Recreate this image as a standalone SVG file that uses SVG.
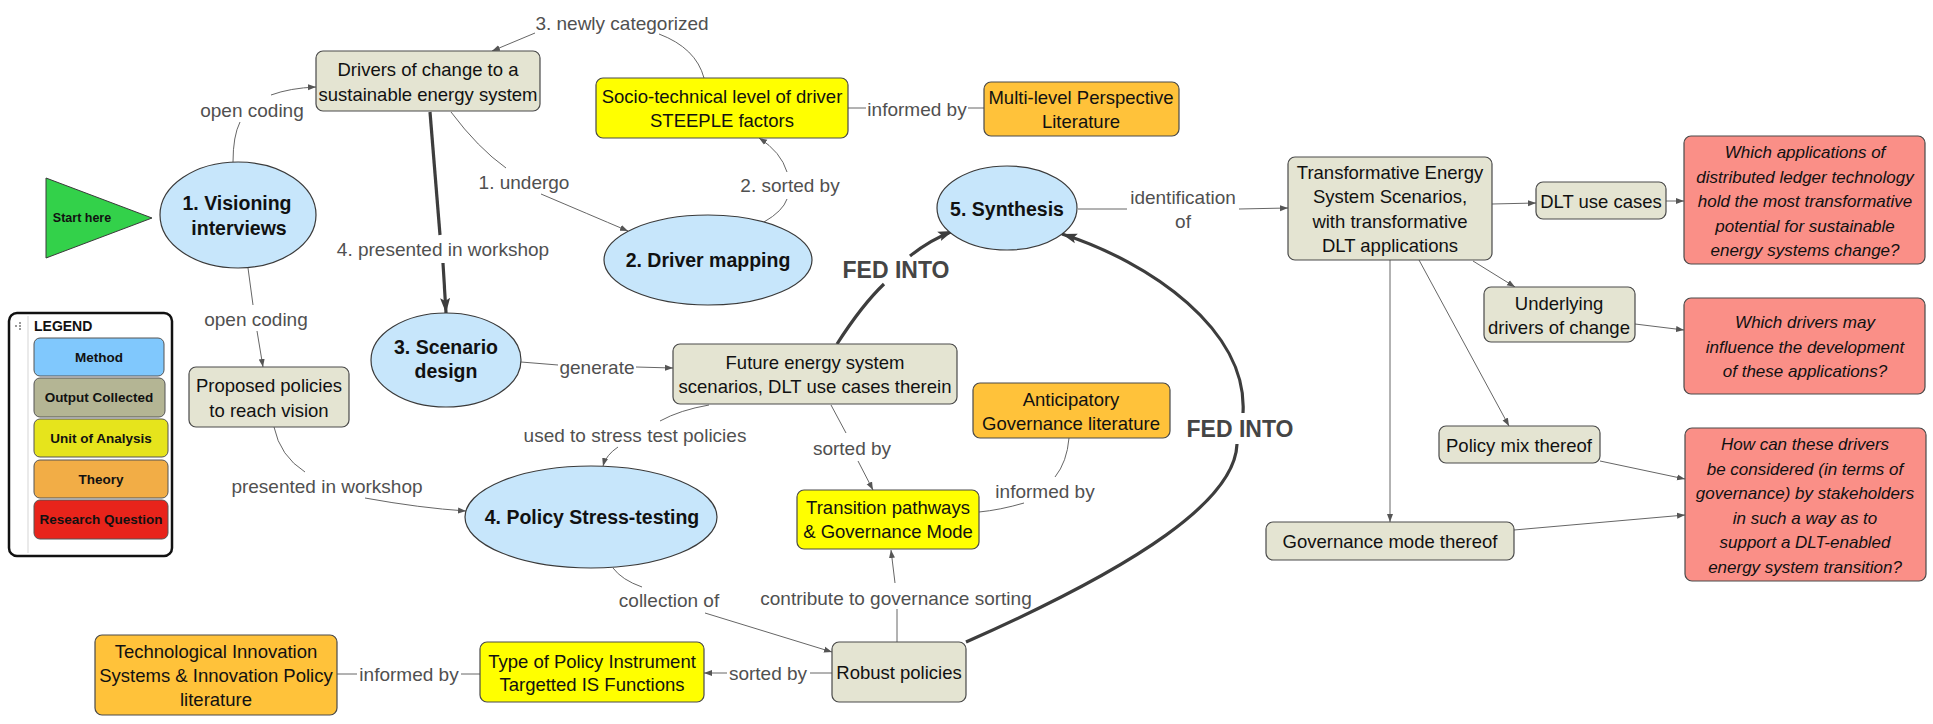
<svg xmlns="http://www.w3.org/2000/svg" width="1933" height="724" viewBox="0 0 1933 724">
  <defs>
    <marker id="arr" markerUnits="userSpaceOnUse" markerWidth="9" markerHeight="7" refX="8" refY="3.5" orient="auto">
      <path d="M0,0.5 L8,3.5 L0,6.5 z" fill="#555"/>
    </marker>
    <marker id="arrBig" markerUnits="userSpaceOnUse" markerWidth="16" markerHeight="12" refX="15" refY="6" orient="auto">
      <path d="M0,1 L15,6 L0,11 L3,6 z" fill="#3d3d3d"/>
    </marker>
    <style>
      .method { fill: #c7e6fb; stroke: #3a3a3a; stroke-width: 1.2; }
      .output { fill: #e4e4d2; stroke: #4a4a4a; stroke-width: 1.2; }
      .unit { fill: #ffff00; stroke: #4a4a4a; stroke-width: 1.2; }
      .theory { fill: #ffc23a; stroke: #4a4a4a; stroke-width: 1.2; }
      .rq { fill: #fa8f87; stroke: #4a4a4a; stroke-width: 1.2; }
      .start { fill: #33d14a; stroke: #3a3a3a; stroke-width: 1; }
      .t { font-family: "Liberation Sans", Arial, sans-serif; font-size: 18.5px; fill: #111; text-anchor: middle; }
      .tb { font-family: "Liberation Sans", Arial, sans-serif; font-size: 19.5px; font-weight: bold; fill: #111; text-anchor: middle; }
      .ti { font-family: "Liberation Sans", Arial, sans-serif; font-size: 17px; font-style: italic; fill: #111; text-anchor: middle; }
      .lbl { font-family: "Liberation Sans", Arial, sans-serif; font-size: 19px; fill: #505050; text-anchor: middle; }
      .fed { font-family: "Liberation Sans", Arial, sans-serif; font-size: 23px; font-weight: bold; fill: #454545; text-anchor: middle; }
      .lg { font-family: "Liberation Sans", Arial, sans-serif; font-size: 13.5px; font-weight: bold; fill: #111; text-anchor: middle; }
      .c { fill: none; stroke: #666; stroke-width: 1; }
      .ca { fill: none; stroke: #666; stroke-width: 1; marker-end: url(#arr); }
      .thick { fill: none; stroke: #3d3d3d; stroke-width: 3.2; }
      .thicka { fill: none; stroke: #3d3d3d; stroke-width: 3.2; marker-end: url(#arrBig); }
    </style>
  </defs>

  <rect width="1933" height="724" fill="#ffffff"/>

  <!-- connectors -->
  <g id="connectors">
    <!-- Socio-technical -> 3. newly categorized -> Drivers -->
    <path class="c" d="M704,78 Q696,48 659,34"/>
    <path class="ca" d="M535,33 L492,51"/>
    <!-- Visioning -> open coding -> Drivers -->
    <path class="c" d="M233,162 Q233,136 240,122"/>
    <path class="ca" d="M271,95 Q290,88 316,87"/>
    <!-- Drivers -> 1. undergo -> Driver mapping -->
    <path class="c" d="M451,112 Q478,148 506,168"/>
    <path class="ca" d="M541,194 Q588,214 628,231"/>
    <!-- Drivers -> 4. presented in workshop -> Scenario design -->
    <path class="thick" d="M430,112 L440,235"/>
    <path class="thicka" d="M443,263 L446,313"/>
    <!-- Driver mapping -> 2. sorted by -> Socio-technical -->
    <path class="c" d="M764,222 Q783,211 787,199"/>
    <path class="ca" d="M787,172 Q781,152 759,138"/>
    <!-- Socio-technical -> informed by -> Multi-level -->
    <path class="c" d="M848,108 L866,108"/>
    <path class="c" d="M968,108 L984,108"/>
    <!-- Synthesis -> identification of -> Transformative -->
    <path class="c" d="M1078,209 L1127,209"/>
    <path class="ca" d="M1239,209 L1288,208"/>
    <!-- Future -> FED INTO -> Synthesis -->
    <path class="thick" d="M837,344 Q862,305 884,284"/>
    <path class="thicka" d="M910,256 Q930,240 953,231"/>
    <!-- Robust -> FED INTO -> Synthesis -->
    <path class="thick" d="M966,642 C1140,565 1235,500 1237,444"/>
    <path class="thicka" d="M1243,413 C1248,330 1150,262 1062,234"/>
    <!-- Scenario design -> generate -> Future -->
    <path class="c" d="M521,362 L558,365"/>
    <path class="ca" d="M636,367 L673,368"/>
    <!-- Future -> used to stress test policies -> Policy stress-testing -->
    <path class="c" d="M709,405 Q680,410 660,421"/>
    <path class="ca" d="M618,447 Q606,455 603,466"/>
    <!-- Future -> sorted by -> Transition pathways -->
    <path class="c" d="M831,405 L846,433"/>
    <path class="ca" d="M858,461 L873,490"/>
    <!-- Anticipatory -> informed by -> Transition pathways -->
    <path class="c" d="M1069,438 Q1067,462 1055,477"/>
    <path class="c" d="M1024,503 Q1000,510 979,512"/>
    <!-- Visioning -> open coding -> Proposed policies -->
    <path class="c" d="M248,268 L253,305"/>
    <path class="ca" d="M257,331 L263,367"/>
    <!-- Proposed policies -> presented in workshop -> Policy stress-testing -->
    <path class="c" d="M274,427 Q280,456 305,472"/>
    <path class="ca" d="M365,498 Q420,508 466,511"/>
    <!-- Policy stress-testing -> collection of -> Robust -->
    <path class="c" d="M613,568 Q622,580 642,587"/>
    <path class="ca" d="M705,613 L832,652"/>
    <!-- Robust -> contribute to governance sorting -> Transition -->
    <path class="c" d="M897,642 L897,609"/>
    <path class="ca" d="M895,583 L891,550"/>
    <!-- Robust -> sorted by -> Type of Policy Instrument -->
    <path class="c" d="M832,673 L810,673"/>
    <path class="ca" d="M727,673 L704,673"/>
    <!-- TIS literature -> informed by -> Type of Policy Instrument -->
    <path class="c" d="M337,674 L357,674"/>
    <path class="c" d="M461,674 L480,674"/>
    <!-- Transformative scenarios fan-out -->
    <path class="ca" d="M1492,204 L1536,203"/>
    <path class="ca" d="M1666,201 L1684,201"/>
    <path class="ca" d="M1473,261 L1515,287"/>
    <path class="ca" d="M1635,324 L1684,330"/>
    <path class="ca" d="M1419,260 L1509,426"/>
    <path class="ca" d="M1390,260 L1390,522"/>
    <path class="ca" d="M1600,461 L1685,479"/>
    <path class="ca" d="M1514,530 L1685,515"/>

    <!-- connector labels -->
    <text class="lbl" x="622" y="30">3. newly categorized</text>
    <text class="lbl" x="252" y="117">open coding</text>
    <text class="lbl" x="524" y="189">1. undergo</text>
    <text class="lbl" x="443" y="256">4. presented in workshop</text>
    <text class="lbl" x="790" y="192">2. sorted by</text>
    <text class="lbl" x="917" y="116">informed by</text>
    <text class="lbl" x="1183" y="204">identification</text>
    <text class="lbl" x="1183" y="228">of</text>
    <text class="fed" x="896" y="278">FED INTO</text>
    <text class="fed" x="1240" y="437">FED INTO</text>
    <text class="lbl" x="597" y="374">generate</text>
    <text class="lbl" x="635" y="442">used to stress test policies</text>
    <text class="lbl" x="852" y="455">sorted by</text>
    <text class="lbl" x="1045" y="498">informed by</text>
    <text class="lbl" x="256" y="326">open coding</text>
    <text class="lbl" x="327" y="493">presented in workshop</text>
    <text class="lbl" x="669" y="607">collection of</text>
    <text class="lbl" x="896" y="605">contribute to governance sorting</text>
    <text class="lbl" x="768" y="680">sorted by</text>
    <text class="lbl" x="409" y="681">informed by</text>
  </g>

  <!-- legend -->
  <g id="legend">
    <rect x="9" y="313" width="163" height="243" rx="8" fill="#fff" stroke="#111" stroke-width="2.5"/>
    <line x1="28" y1="316" x2="28" y2="553" stroke="#d5d5d5" stroke-width="1"/>
    <rect x="15" y="325" width="2" height="2" fill="#999"/>
    <rect x="19" y="322" width="2" height="2" fill="#999"/>
    <rect x="19" y="325" width="2" height="2" fill="#999"/>
    <rect x="19" y="328" width="2" height="2" fill="#999"/>
    <text x="34" y="331" font-family="'Liberation Sans', Arial, sans-serif" font-size="14" font-weight="bold" fill="#111">LEGEND</text>
    <rect x="34" y="338" width="130" height="38" rx="6" fill="#80c8fd" stroke="#555" stroke-width="1"/>
    <text class="lg" x="99" y="362">Method</text>
    <rect x="34" y="378" width="131" height="39" rx="6" fill="#b4b594" stroke="#555" stroke-width="1"/>
    <text class="lg" x="99" y="402">Output Collected</text>
    <rect x="34" y="419" width="134" height="38" rx="6" fill="#e6e41c" stroke="#555" stroke-width="1"/>
    <text class="lg" x="101" y="443">Unit of Analysis</text>
    <rect x="34" y="460" width="134" height="38" rx="6" fill="#f2ad46" stroke="#555" stroke-width="1"/>
    <text class="lg" x="101" y="484">Theory</text>
    <rect x="34" y="500" width="134" height="39" rx="6" fill="#e8241b" stroke="#555" stroke-width="1"/>
    <text class="lg" x="101" y="524">Research Question</text>
  </g>

  <!-- nodes -->
  <g id="start">
    <polygon class="start" points="46,178 152,218 46,258"/>
    <text x="82" y="222" font-family="'Liberation Sans', Arial, sans-serif" font-size="12.5" font-weight="bold" fill="#111" text-anchor="middle">Start here</text>
  </g>

  <g id="visioning">
    <ellipse class="method" cx="238" cy="215" rx="78" ry="53"/>
    <text class="tb" x="237" y="210">1. Visioning</text>
    <text class="tb" x="239" y="235">interviews</text>
  </g>

  <g id="driver-mapping">
    <ellipse class="method" cx="708" cy="260" rx="104" ry="45"/>
    <text class="tb" x="708" y="267">2. Driver mapping</text>
  </g>

  <g id="scenario-design">
    <ellipse class="method" cx="446" cy="360" rx="75" ry="47"/>
    <text class="tb" x="446" y="354">3. Scenario</text>
    <text class="tb" x="446" y="378">design</text>
  </g>

  <g id="policy-stress-testing">
    <ellipse class="method" cx="591" cy="517" rx="126" ry="51"/>
    <text class="tb" x="592" y="524">4. Policy Stress-testing</text>
  </g>

  <g id="synthesis">
    <ellipse class="method" cx="1007" cy="208" rx="70" ry="42"/>
    <text class="tb" x="1007" y="216">5. Synthesis</text>
  </g>

  <g id="drivers-of-change">
    <rect class="output" x="316" y="51" width="224" height="60" rx="7"/>
    <text class="t" x="428" y="76">Drivers of change to a</text>
    <text class="t" x="428" y="101">sustainable energy system</text>
  </g>

  <g id="socio-technical-level">
    <rect class="unit" x="596" y="78" width="252" height="60" rx="7"/>
    <text class="t" x="722" y="103">Socio-technical level of driver</text>
    <text class="t" x="722" y="127">STEEPLE factors</text>
  </g>

  <g id="multi-level-perspective">
    <rect class="theory" x="984" y="82" width="195" height="54" rx="7"/>
    <text class="t" x="1081" y="104">Multi-level Perspective</text>
    <text class="t" x="1081" y="128">Literature</text>
  </g>

  <g id="proposed-policies">
    <rect class="output" x="189" y="367" width="160" height="60" rx="7"/>
    <text class="t" x="269" y="392">Proposed policies</text>
    <text class="t" x="269" y="417">to reach vision</text>
  </g>

  <g id="future-scenarios">
    <rect class="output" x="673" y="344" width="284" height="60" rx="7"/>
    <text class="t" x="815" y="369">Future energy system</text>
    <text class="t" x="815" y="393">scenarios, DLT use cases therein</text>
  </g>

  <g id="anticipatory-governance">
    <rect class="theory" x="973" y="383" width="197" height="55" rx="7"/>
    <text class="t" x="1071" y="406">Anticipatory</text>
    <text class="t" x="1071" y="430">Governance literature</text>
  </g>

  <g id="transition-pathways">
    <rect class="unit" x="797" y="490" width="182" height="59" rx="7"/>
    <text class="t" x="888" y="514">Transition pathways</text>
    <text class="t" x="888" y="538">&amp; Governance Mode</text>
  </g>

  <g id="robust-policies">
    <rect class="output" x="832" y="642" width="134" height="60" rx="7"/>
    <text class="t" x="899" y="679">Robust policies</text>
  </g>

  <g id="policy-instrument">
    <rect class="unit" x="480" y="642" width="224" height="60" rx="7"/>
    <text class="t" x="592" y="668">Type of Policy Instrument</text>
    <text class="t" x="592" y="691">Targetted IS Functions</text>
  </g>

  <g id="tis-literature">
    <rect class="theory" x="95" y="635" width="242" height="80" rx="7"/>
    <text class="t" x="216" y="658">Technological Innovation</text>
    <text class="t" x="216" y="682">Systems &amp; Innovation Policy</text>
    <text class="t" x="216" y="706">literature</text>
  </g>

  <g id="transformative-scenarios">
    <rect class="output" x="1288" y="157" width="204" height="103" rx="7"/>
    <text class="t" x="1390" y="179">Transformative Energy</text>
    <text class="t" x="1390" y="203">System Scenarios,</text>
    <text class="t" x="1390" y="228">with transformative</text>
    <text class="t" x="1390" y="252">DLT applications</text>
  </g>

  <g id="dlt-use-cases">
    <rect class="output" x="1536" y="182" width="130" height="37" rx="7"/>
    <text class="t" x="1601" y="208">DLT use cases</text>
  </g>

  <g id="underlying-drivers">
    <rect class="output" x="1484" y="287" width="151" height="55" rx="7"/>
    <text class="t" x="1559" y="310">Underlying</text>
    <text class="t" x="1559" y="334">drivers of change</text>
  </g>

  <g id="policy-mix">
    <rect class="output" x="1439" y="426" width="161" height="37" rx="7"/>
    <text class="t" x="1519" y="452">Policy mix thereof</text>
  </g>

  <g id="governance-mode">
    <rect class="output" x="1266" y="522" width="248" height="38" rx="7"/>
    <text class="t" x="1390" y="548">Governance mode thereof</text>
  </g>

  <g id="rq-applications">
    <rect class="rq" x="1684" y="136" width="241" height="128" rx="7"/>
    <text class="ti" x="1805" y="158">Which applications of</text>
    <text class="ti" x="1805" y="183">distributed ledger technology</text>
    <text class="ti" x="1805" y="207">hold the most transformative</text>
    <text class="ti" x="1805" y="232">potential for sustainable</text>
    <text class="ti" x="1805" y="256">energy systems change?</text>
  </g>

  <g id="rq-drivers">
    <rect class="rq" x="1684" y="298" width="241" height="96" rx="7"/>
    <text class="ti" x="1805" y="328">Which drivers may</text>
    <text class="ti" x="1805" y="353">influence the development</text>
    <text class="ti" x="1805" y="377">of these applications?</text>
  </g>

  <g id="rq-governance">
    <rect class="rq" x="1685" y="428" width="241" height="153" rx="7"/>
    <text class="ti" x="1805" y="450">How can these drivers</text>
    <text class="ti" x="1805" y="475">be considered (in terms of</text>
    <text class="ti" x="1805" y="499">governance) by stakeholders</text>
    <text class="ti" x="1805" y="524">in such a way as to</text>
    <text class="ti" x="1805" y="548">support a DLT-enabled</text>
    <text class="ti" x="1805" y="573">energy system transition?</text>
  </g>
</svg>
